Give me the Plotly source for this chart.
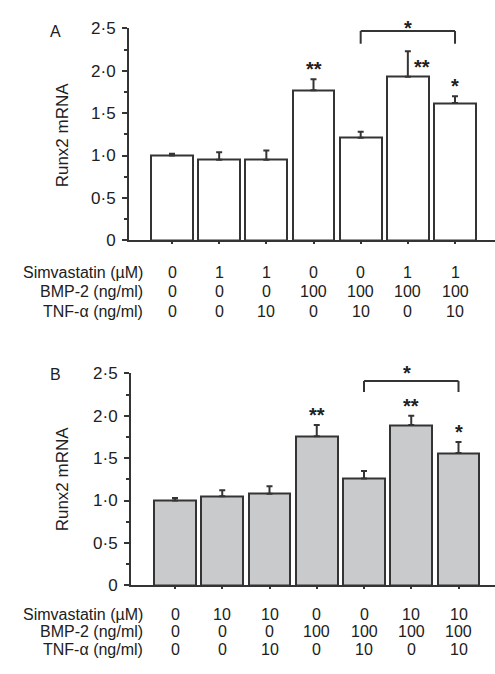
import plotly.graph_objects as go

# ---------------- data ----------------
groups = ["1", "2", "3", "4", "5", "6", "7"]
runx2_A = [1.00, 0.95, 0.95, 1.77, 1.21, 1.93, 1.62]
err_A = [0.02, 0.09, 0.11, 0.13, 0.07, 0.30, 0.08]
runx2_B = [1.00, 1.05, 1.08, 1.76, 1.26, 1.89, 1.56]
err_B = [0.03, 0.07, 0.09, 0.13, 0.09, 0.11, 0.13]

simva_A = ["0", "1", "1", "0", "0", "1", "1"]
simva_B = ["0", "10", "10", "0", "0", "10", "10"]
bmp2 = ["0", "0", "0", "100", "100", "100", "100"]
tnf = ["0", "0", "10", "0", "10", "0", "10"]
row_labels = ["Simvastatin (\u00b5M)", "BMP-2 (ng/ml)", "TNF-\u03b1 (ng/ml)"]

sig_A = ["", "", "", "**", "", "**", "*"]
sig_B = ["", "", "", "**", "", "**", "*"]

tick_vals = [0, 0.5, 1.0, 1.5, 2.0, 2.5]
tick_text = ["0", "0\u00b75", "1\u00b70", "1\u00b75", "2\u00b70", "2\u00b75"]

# ---------------- layout constants ----------------
W, H = 495, 674
FONT = "Liberation Sans, Arial, Helvetica, sans-serif"
TXT = "#202020"
EDGE = "#343434"


def py(sy):
    """screen y pixel -> paper fraction"""
    return 1 - sy / H


def pxx(sx):
    """screen x pixel -> paper fraction"""
    return min(1.0, sx / W)


fig = go.Figure()
xs = list(range(len(groups)))

panels = [
    dict(vals=runx2_A, err=err_A, fill="#ffffff", xa="x", ya="y",
         x0px=129, ydom=[py(238), py(20)], c0=172, step=47.17,
         simva=simva_A, sig=sig_A, rows=[271, 291, 311], letter="A",
         letter_y=23, title_y=130, brk_top=2.47, brk_bot=2.32,
         brk_star_px=(408, 16)),
    dict(vals=runx2_B, err=err_B, fill="#c9cacc", xa="x2", ya="y2",
         x0px=131, ydom=[py(593), py(375)], c0=175, step=47.25,
         simva=simva_B, sig=sig_B, rows=[623, 641, 659], letter="B",
         letter_y=376, title_y=484, brk_top=2.41, brk_bot=2.28,
         brk_star_px=(407, 371)),
]

annotations = []
shapes = []

for i, p in enumerate(panels):
    xr = [(p["x0px"] - p["c0"]) / p["step"], (W - p["c0"]) / p["step"]]
    fig.add_trace(go.Bar(
        x=xs, y=p["vals"], width=0.885,
        marker=dict(color=p["fill"], line=dict(color=EDGE, width=2)),
        error_y=dict(type="data", symmetric=False, array=p["err"],
                     arrayminus=[0] * len(xs), color=EDGE, thickness=2, width=3),
        xaxis=p["xa"], yaxis=p["ya"], showlegend=False, hoverinfo="skip",
    ))
    suffix = "" if i == 0 else "2"
    axis_common = dict(showgrid=False, zeroline=False, showline=True,
                       linecolor=EDGE, linewidth=2, ticks="outside",
                       tickcolor=EDGE, tickwidth=2)
    fig.update_layout(**{
        "xaxis" + suffix: dict(domain=[pxx(p["x0px"]), 1.0], range=xr,
                               anchor="y" + suffix, tickvals=xs, ticktext=[""] * 7,
                               ticklen=2, fixedrange=True, **axis_common),
        "yaxis" + suffix: dict(domain=p["ydom"], range=[0, 2.5],
                               anchor="x" + suffix, tickvals=tick_vals,
                               ticktext=tick_text, ticklen=5, ticklabelstandoff=3,
                               minor=dict(tickvals=[0.25, 0.75, 1.25, 1.75, 2.25],
                                          ticklen=3, tickwidth=1.5, tickcolor=EDGE,
                                          ticks="outside"),
                               tickfont=dict(family=FONT, size=17, color=TXT),
                               fixedrange=True, **axis_common),
    })

    # significance stars
    for k, s in enumerate(p["sig"]):
        if not s:
            continue
        top = p["vals"][k] + p["err"][k]
        xshift = 0
        yv = top
        if i == 0 and k == 5:
            # star placed beside the tall error bar
            yv = p["vals"][k]
            xshift = 14
        annotations.append(dict(
            x=xs[k], y=yv, xref=p["xa"], yref=p["ya"], text="<b>" + s + "</b>",
            showarrow=False, xanchor="center", yanchor="bottom",
            xshift=xshift, yshift=-3,
            font=dict(family=FONT, size=20, color=TXT)))

    # bracket between group 5 and 7
    xa_ref, ya_ref = p["xa"], p["ya"]
    for (bx0, by0, bx1, by1) in [(4, p["brk_bot"], 4, p["brk_top"]),
                                 (4, p["brk_top"], 6, p["brk_top"]),
                                 (6, p["brk_top"], 6, p["brk_bot"])]:
        shapes.append(dict(type="line", xref=xa_ref, yref=ya_ref,
                           x0=bx0, y0=by0, x1=bx1, y1=by1,
                           line=dict(color=EDGE, width=2)))
    sx, sy = p["brk_star_px"]
    annotations.append(dict(
        x=pxx(sx), y=py(sy), xref="paper", yref="paper", text="<b>*</b>",
        showarrow=False, xanchor="center", yanchor="top", yshift=10,
        font=dict(family=FONT, size=20, color=TXT)))

    # panel letter and y title
    annotations.append(dict(
        x=pxx(55), y=py(p["letter_y"]), xref="paper", yref="paper",
        text=p["letter"], showarrow=False, xanchor="center", yanchor="middle",
        font=dict(family=FONT, size=16, color=TXT)))
    annotations.append(dict(
        x=pxx(62), y=py(p["title_y"]), xref="paper", yref="paper",
        text="Runx2 mRNA", textangle=-90, showarrow=False,
        xanchor="center", yanchor="middle",
        font=dict(family=FONT, size=17, color=TXT)))

    # condition table
    table_rows = [p["simva"], bmp2, tnf]
    for r, (lab, row) in enumerate(zip(row_labels, table_rows)):
        ypx = p["rows"][r]
        annotations.append(dict(
            x=pxx(145), y=py(ypx), xref="paper", yref="paper", text=lab,
            showarrow=False, xanchor="right", yanchor="middle",
            font=dict(family=FONT, size=16, color=TXT)))
        for k, v in enumerate(row):
            annotations.append(dict(
                x=xs[k], y=py(ypx), xref=p["xa"], yref="paper", text=v,
                showarrow=False, xanchor="center", yanchor="middle",
                font=dict(family=FONT, size=16, color=TXT)))

fig.update_layout(
    width=W, height=H, margin=dict(l=0, r=0, t=0, b=0),
    paper_bgcolor="#ffffff", plot_bgcolor="rgba(0,0,0,0)",
    bargap=0, annotations=annotations, shapes=shapes,
    font=dict(family=FONT, color=TXT),
)

fig.write_html(
    "out.html",
    config={"displayModeBar": False},
    post_script="document.body.style.margin='0';document.body.style.overflow='hidden';",
)
